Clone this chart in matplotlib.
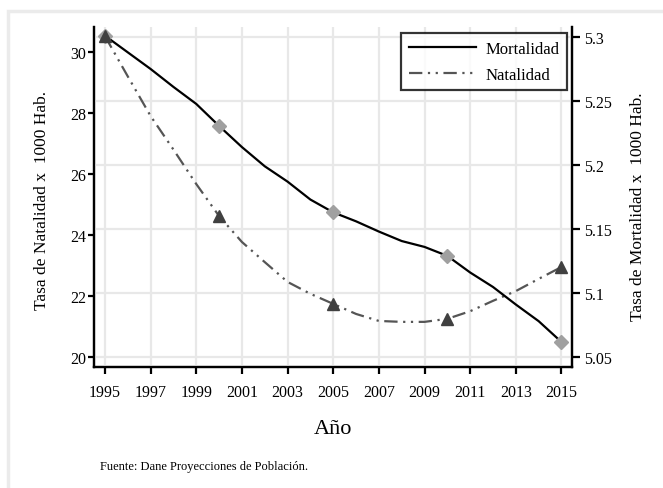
import matplotlib
matplotlib.use("Agg")
import matplotlib.pyplot as plt
from matplotlib.patches import Rectangle
from matplotlib.lines import Line2D

plt.rcParams['font.family'] = ['Liberation Serif', 'DejaVu Serif']

years = [1995, 1996, 1997, 1998, 1999, 2000, 2001, 2002, 2003, 2004, 2005,
         2006, 2007, 2008, 2009, 2010, 2011, 2012, 2013, 2014, 2015]
natalidad = [30.52, 29.2, 27.9, 26.8, 25.67, 24.62, 23.77, 23.11, 22.46, 22.07, 21.74,
             21.41, 21.18, 21.15, 21.15, 21.25, 21.5, 21.84, 22.16, 22.56, 22.95]
mortalidad = [5.301, 5.288, 5.275, 5.261, 5.2477, 5.2305, 5.214, 5.199, 5.187, 5.173, 5.163,
              5.156, 5.148, 5.1406, 5.136, 5.129, 5.116, 5.1047, 5.091, 5.078, 5.0617]
marker_years = [1995, 2000, 2005, 2010, 2015]
xticks = list(range(1995, 2016, 2))
left_ticks = [20, 22, 24, 26, 28, 30]
right_ticks = [5.05, 5.1, 5.15, 5.2, 5.25, 5.3]
right_ticklabels = ["5.05", "5.1", "5.15", "5.2", "5.25", "5.3"]

W, H = 663, 489
fig = plt.figure(figsize=(W / 100, H / 100), dpi=100)
fig.patch.set_facecolor('white')

# outer light frame
fig.patches.append(Rectangle((8 / W, -0.1), 1.2, 1 - 12 / H + 0.1,
                             transform=fig.transFigure, fill=False,
                             edgecolor='#ebebeb', linewidth=2.5, zorder=0))

ax = fig.add_axes([94 / W, 1 - 368 / H, (572 - 94) / W, (368 - 28) / H])
ax2 = ax.twinx()

ax.set_xlim(1994.52, 2015.46)
ax.set_ylim(19.67, 30.82)
ax2.set_ylim(5.0422, 5.3078)

# grid: verticals on x ticks, horizontals on right axis ticks
ax2.set_yticks(right_ticks)
for yv in right_ticks:
    ax2.axhline(yv, color='#e8e8e8', lw=1.6, zorder=0)
ax2.vlines(xticks, 5.0422, 5.3078, color='#e8e8e8', lw=1.6, zorder=0)

dash = (0, (6, 2.5, 1, 2.5, 1, 2.5))

nat_line, = ax2.plot(years, natalidad, color='#555555', lw=1.6, linestyle=dash,
                     transform=ax.transData, zorder=2)
mort_line, = ax2.plot(years, mortalidad, color='black', lw=1.6, zorder=3)
mk_m = [mortalidad[years.index(y)] for y in marker_years]
mk_n = [natalidad[years.index(y)] for y in marker_years]
ax2.plot(marker_years, mk_m, linestyle='none', marker='D', markersize=7,
         color='#a0a0a0', zorder=4)
ax2.plot(marker_years, mk_n, linestyle='none', marker='^', markersize=8,
         color='#404040', transform=ax.transData, zorder=5)

# axes styling
for a in (ax, ax2):
    a.spines['top'].set_visible(False)
    for s in ('left', 'right', 'bottom'):
        a.spines[s].set_linewidth(1.6)
ax.patch.set_visible(False)

ax.set_xticks(xticks)
ax.set_xticklabels([str(x) for x in xticks], fontsize=11.5)
ax.set_yticks(left_ticks)
ax.set_yticklabels([str(v) for v in left_ticks], fontsize=11.5)
ax2.set_yticklabels(right_ticklabels, fontsize=11.5)
ax.tick_params(axis='x', direction='out', length=5, width=1.6, pad=7)
ax.tick_params(axis='y', direction='out', length=4.5, width=1.6, pad=1)
ax2.tick_params(axis='y', direction='out', length=5.5, width=1.6, pad=3.5)

ax.set_ylabel('Tasa de Natalidad x  1000 Hab.', fontsize=12.5, va='center')
ax.yaxis.set_label_coords((42 - 94) / 478, (368 - 200) / 340)
ax2.set_ylabel('Tasa de Mortalidad x  1000 Hab.', fontsize=12.5, va='center')
ax2.yaxis.set_label_coords((638 - 94) / 478, (368 - 207) / 340)
ax.set_xlabel('Año', fontsize=16, va='center')
ax.xaxis.set_label_coords((333 - 94) / 478, (368 - 430) / 340)

handles = [Line2D([], [], color='black', lw=1.6),
           Line2D([], [], color='#555555', lw=1.6, linestyle=dash)]
leg = ax2.legend(handles, ['Mortalidad', 'Natalidad'], loc='upper right',
                 bbox_to_anchor=(567 / W, 1 - 34 / H), bbox_transform=fig.transFigure,
                 fontsize=12, frameon=True, fancybox=False, handlelength=4.0,
                 borderpad=0.45, labelspacing=0.6, handletextpad=0.6,
                 borderaxespad=0)
leg.get_frame().set_edgecolor('black')
leg.get_frame().set_linewidth(1.6)

fig.text(100 / W, 1 - 467 / H, 'Fuente: Dane Proyecciones de Población.', fontsize=9,
         va='center', ha='left')

fig.savefig('out.png', dpi=100)
